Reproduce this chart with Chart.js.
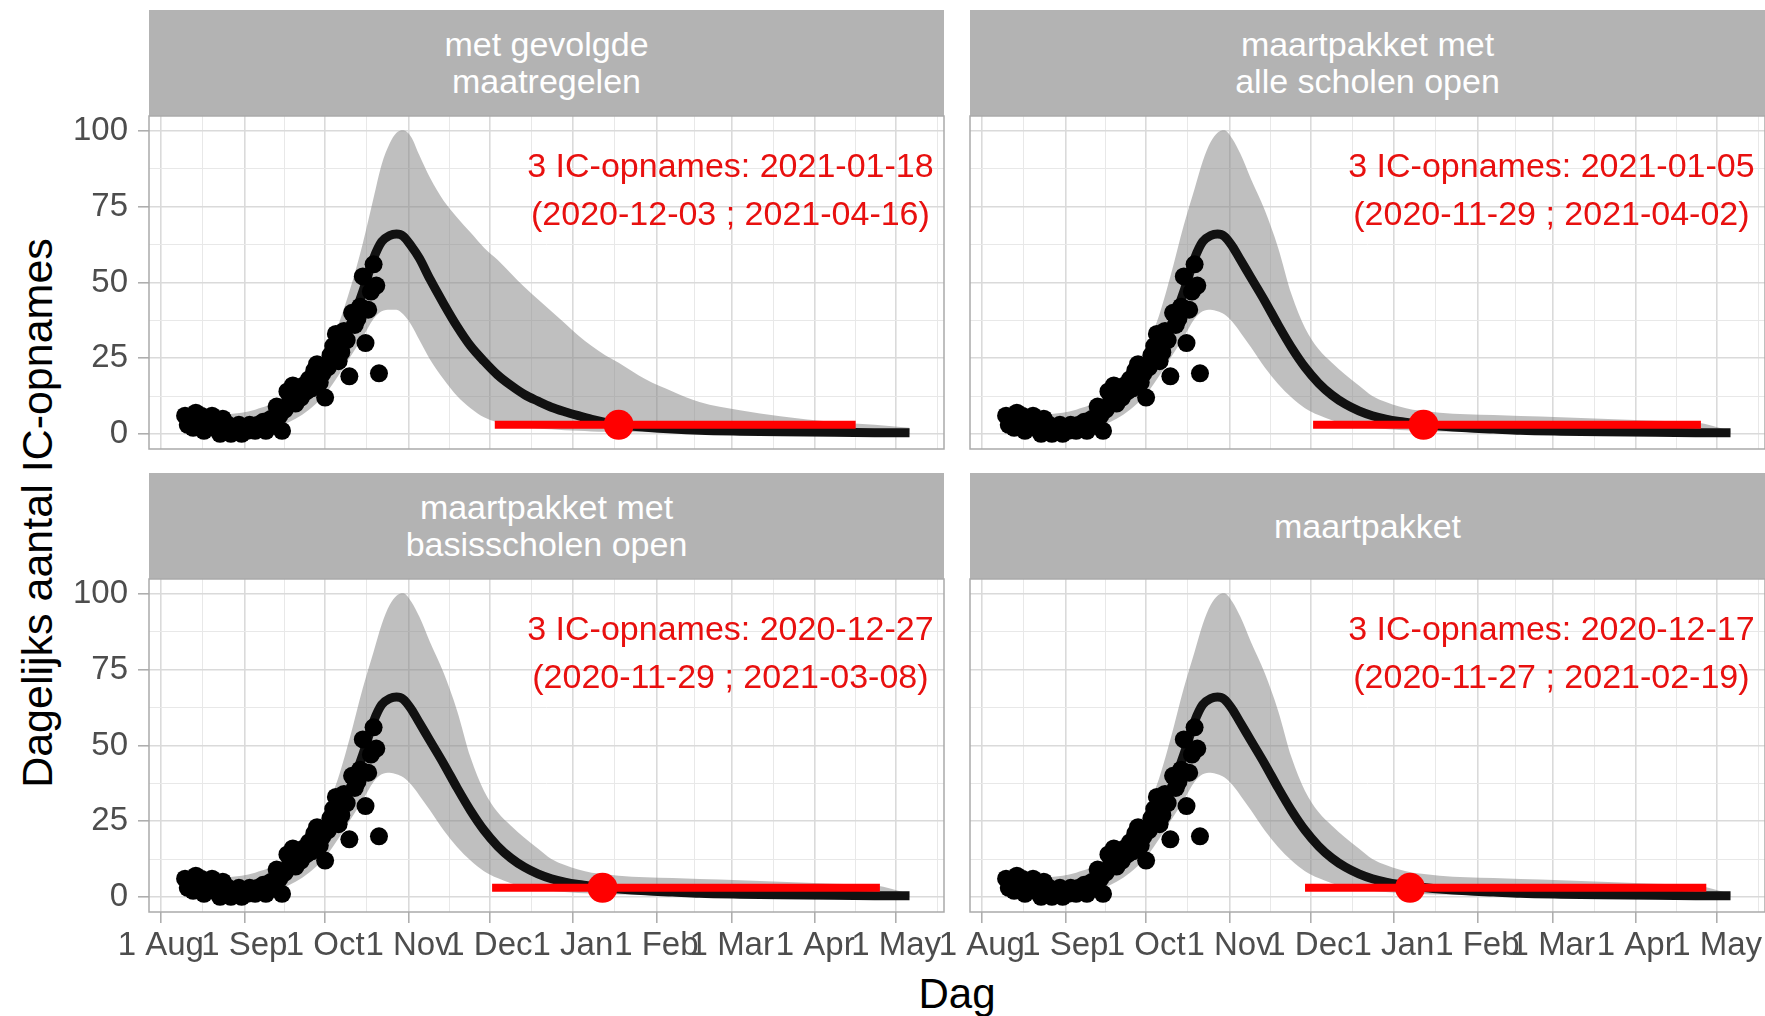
<!DOCTYPE html>
<html>
<head>
<meta charset="utf-8">
<title>IC-opnames scenario's</title>
<script src="https://cdn.jsdelivr.net/npm/chart.js@4.4.1/dist/chart.umd.min.js"></script>
<style>
    html, body { margin: 0; padding: 0; background: #fff; }
    body {
        width: 1765px; height: 1016px; position: relative; overflow: hidden;
        font-family: 'Liberation Sans', Arial, Helvetica, sans-serif;
    }
    .panel { position: absolute; }
    .strip {
        position: absolute; background: #b3b3b3; color: #fff;
        font-size: 34px; line-height: 37px; text-align: center;
        display: flex; align-items: center; justify-content: center;
    }
    .axis-title { position: absolute; color: #000; white-space: nowrap; transform: translate(-50%, -50%); }
    .y-title { left: 37px; top: 513px; font-size: 43px; transform: translate(-50%, -50%) rotate(-90deg); }
    .x-title { left: 957px; top: 994px; font-size: 42px; }
</style>
</head>
<body>
<div class="axis-title y-title">Dagelijks aantal IC-opnames</div>
<div class="axis-title x-title">Dag</div>

<script>
// Dagen geteld vanaf 1 augustus 2020 (dag 0)
const monthDays = [0, 31, 61, 92, 122, 153, 184, 212, 243, 273];
const monthLabels = ['1 Aug', '1 Sep', '1 Oct', '1 Nov', '1 Dec', '1 Jan', '1 Feb', '1 Mar', '1 Apr', '1 May'];
const minorDays = [15.5, 46, 76.5, 107, 137.5, 168.5, 198, 227.5, 258, 288.5];
const yMajor = [0, 25, 50, 75, 100];
const yMinor = [12.5, 37.5, 62.5, 87.5];

// waargenomen dagelijkse IC-opnames
const obsDays = [9, 10, 11, 12, 13, 14, 15, 16, 17, 18, 19, 20, 21, 22, 23, 24, 25, 26, 27, 28,
    29, 30, 31, 32, 33, 34, 35, 36, 37, 38, 39, 40, 41, 42, 43, 44, 45, 46, 47, 48,
    49, 50, 51, 52, 53, 54, 55, 56, 57, 58, 59, 60, 61, 62, 63, 64, 65, 66, 67, 68,
    69, 70, 71, 72, 73, 74, 75, 76, 77, 78, 79, 80, 81];
const obsValues = [6, 3, 5, 2, 7, 4, 6, 1, 5, 3, 6, 2, 4, 0, 5, 2, 3, 0, 2, 1,
    3, 0, 2, 1, 3, 2, 1, 3, 2, 4, 1, 3, 5, 4, 9, 6, 1, 8, 14, 11,
    16, 10, 15, 12, 16, 14, 18, 15, 21, 23, 17, 20, 12, 22, 26, 29, 33, 24, 27, 34,
    31, 19, 40, 36, 38, 42, 52, 30, 41, 47, 56, 49, 20];

// modelcurve en onzekerheidsband
const modelDays = [9, 15, 20, 25, 30, 35, 40, 45, 50, 55, 60, 65, 70, 75, 79, 82, 85, 87.5, 90, 93,
    96, 100, 105, 110, 115, 120, 125, 130, 135, 140, 145, 150, 155, 160, 165, 170, 180, 190, 200, 215,
    230, 250, 265, 278];
const lineSlow = [3.5, 3.2, 3, 3, 3.2, 3.8, 5, 7, 10, 14, 19.5, 26.5, 35, 47, 58, 63.5, 65.5, 66, 65.3, 62,
    58, 51, 43, 35.5, 29, 24, 19.5, 16, 13, 10.8, 8.8, 7.3, 6, 4.8, 3.8, 3, 2.2, 1.6, 1.2, 0.9,
    0.7, 0.5, 0.4, 0.35];
const lineFast = [3.5, 3.2, 3, 3, 3.2, 3.8, 5, 7, 10, 14, 19.5, 26.5, 35, 47, 58, 63.5, 65.5, 66, 65.3, 62,
    57.5, 51.5, 44, 36, 28.5, 22, 16.8, 12.8, 9.8, 7.6, 6, 4.9, 4.1, 3.5, 3, 2.6, 2, 1.6, 1.2, 0.9,
    0.7, 0.5, 0.4, 0.35];
const upperWide = [6, 6, 6, 6.5, 7, 8, 9.5, 12, 15.5, 20, 26, 34, 47, 63, 78, 89, 96, 99.5, 100.3, 98,
    92, 84.5, 77, 71.5, 66.5, 61.5, 57.5, 53, 48.5, 44.5, 40.5, 36.5, 32.5, 29, 26, 23.5, 18, 14, 10.5, 7.8,
    5.8, 3.9, 3, 2];
const lowerWide = [1, 1, 0.8, 0.8, 1, 1.2, 2, 3, 5, 8, 12, 18, 25, 32, 38, 40.5, 41, 41, 39.5, 36,
    31, 24.5, 18, 12.5, 8.5, 5.5, 3.8, 2.8, 2.2, 1.8, 1.5, 1.2, 1, 0.8, 0.7, 0.6, 0.5, 0.4, 0.3, 0.25,
    0.2, 0.15, 0.1, 0.1];
const upperNarrow = [6, 6, 6, 6.5, 7, 8, 9.5, 12, 15.5, 20, 27, 37, 52, 69, 81, 90, 96.5, 99.5, 100.3, 97.5,
    92.5, 84, 74, 61.5, 46, 35, 28, 23.5, 19.5, 16, 12.5, 10.5, 9, 8, 7.5, 7, 6.5, 6.2, 5.9, 5.5,
    5, 4.3, 3.8, 1];
const lowerNarrow = [1, 1, 0.8, 0.8, 1, 1.2, 2, 3, 5, 8, 12, 18, 25, 32, 38, 40.5, 41, 40.5, 39.5, 37,
    33.5, 28.5, 22, 16.5, 12, 8.5, 6.2, 4.5, 3.3, 2.6, 2, 1.6, 1.3, 1.1, 0.9, 0.8, 0.6, 0.5, 0.4, 0.3,
    0.25, 0.2, 0.15, 0.1];

// per scenario
const panelTitles = [['met gevolgde', 'maatregelen'], ['maartpakket met', 'alle scholen open'],
    ['maartpakket met', 'basisscholen open'], ['maartpakket']];
const panelDates = ['2021-01-18', '2021-01-05', '2020-12-27', '2020-12-17'];
const panelRanges = ['(2020-12-03 ; 2021-04-16)', '(2020-11-29 ; 2021-04-02)',
    '(2020-11-29 ; 2021-03-08)', '(2020-11-27 ; 2021-02-19)'];
const intervalStart = [124, 123, 123, 120];
const intervalEnd = [258, 267, 267, 269];
const medianDay = [170, 164, 164, 159];
const thresholdLevel = 3;
const labelDay = 211.5;
const labelLevels = [88, 72];

const panelLines = [lineSlow, lineFast, lineFast, lineFast];
const panelUpper = [upperWide, upperNarrow, upperNarrow, upperNarrow];
const panelLower = [lowerWide, lowerNarrow, lowerNarrow, lowerNarrow];

// layout van de facetten (paginapixels)
const boxes = [
    { left: 0,   top: 110, width: 950, height: 343, yAxisW: 149, xAxisH: 0,  padBottom: 4, showX: false, showY: true },
    { left: 964, top: 110, width: 807, height: 343, yAxisW: 6,   xAxisH: 0,  padBottom: 4, showX: false, showY: false },
    { left: 0,   top: 573, width: 950, height: 401, yAxisW: 149, xAxisH: 62, padBottom: 0, showX: true,  showY: true },
    { left: 920, top: 573, width: 851, height: 401, yAxisW: 50,  xAxisH: 62, padBottom: 0, showX: true,  showY: false }
];
const strips = [
    { left: 149, top: 10 }, { left: 970, top: 10 }, { left: 149, top: 473 }, { left: 970, top: 473 }
];

const FONT = "'Liberation Sans', Arial, Helvetica, sans-serif";
Chart.defaults.font.family = FONT;

const toPoints = (xs, ys) => xs.map((x, i) => ({ x: x, y: ys[i] }));

const xTickValues = monthDays.concat(minorDays).sort((a, b) => a - b);
const yTickValues = yMajor.concat(yMinor).sort((a, b) => a - b);

const framePlugin = {
    id: 'panelFrame',
    afterDraw(chart) {
        const { ctx, chartArea: a } = chart;
        ctx.save();
        ctx.strokeStyle = '#aaaaaa';
        ctx.lineWidth = 1.5;
        ctx.strokeRect(a.left, a.top, a.right - a.left, a.bottom - a.top);
        ctx.restore();
    }
};

const labelPlugin = {
    id: 'icLabel',
    afterDatasetsDraw(chart, args, opts) {
        const { ctx } = chart;
        const x = chart.scales.x.getPixelForValue(labelDay);
        ctx.save();
        ctx.fillStyle = '#e8100f';
        ctx.font = '34px ' + FONT;
        ctx.textAlign = 'center';
        ctx.textBaseline = 'middle';
        ctx.fillText(opts.line1, x, chart.scales.y.getPixelForValue(labelLevels[0]));
        ctx.fillText(opts.line2, x, chart.scales.y.getPixelForValue(labelLevels[1]));
        ctx.restore();
    }
};

function gridColor(majors) {
    return ctx => majors.includes(ctx.tick.value) ? '#dadada' : '#e8e8e8';
}
function gridWidth(majors) {
    return ctx => majors.includes(ctx.tick.value) ? 1.6 : 1;
}
function tickMarkColor(majors) {
    return ctx => majors.includes(ctx.tick.value) ? '#aaaaaa' : 'rgba(0,0,0,0)';
}

// keep the panel area fixed: no automatic label padding
function clearPadding(axis) {
    axis.paddingTop = 0;
    axis.paddingBottom = 0;
    axis.paddingLeft = 0;
    axis.paddingRight = 0;
}

function buildPanel(i) {
    const box = boxes[i];

    const strip = document.createElement('div');
    strip.className = 'strip';
    strip.style.left = strips[i].left + 'px';
    strip.style.top = strips[i].top + 'px';
    strip.style.width = '795px';
    strip.style.height = '106px';
    strip.innerHTML = panelTitles[i].join('<br>');
    document.body.appendChild(strip);

    const wrap = document.createElement('div');
    wrap.className = 'panel';
    wrap.style.left = box.left + 'px';
    wrap.style.top = box.top + 'px';
    wrap.style.width = box.width + 'px';
    wrap.style.height = box.height + 'px';
    const canvas = document.createElement('canvas');
    wrap.appendChild(canvas);
    document.body.appendChild(wrap);

    new Chart(canvas, {
        type: 'line',
        data: {
            datasets: [
                {
                    data: toPoints(modelDays, panelUpper[i]),
                    borderWidth: 0, pointRadius: 0, fill: '+1',
                    backgroundColor: 'rgba(127,127,127,0.5)',
                    cubicInterpolationMode: 'monotone', order: 6
                },
                {
                    data: toPoints(modelDays, panelLower[i]),
                    borderWidth: 0, pointRadius: 0, fill: false,
                    cubicInterpolationMode: 'monotone', order: 6
                },
                {
                    data: toPoints(modelDays, panelLines[i]),
                    borderColor: '#111111', borderWidth: 9, pointRadius: 0, fill: false,
                    cubicInterpolationMode: 'monotone', order: 5
                },
                {
                    data: toPoints(obsDays, obsValues),
                    showLine: false, pointRadius: 9, pointBorderWidth: 0,
                    pointBackgroundColor: '#000000', order: 4
                },
                {
                    data: [{ x: intervalStart[i], y: thresholdLevel }, { x: intervalEnd[i], y: thresholdLevel }],
                    borderColor: '#ff0000', borderWidth: 8, pointRadius: 0, fill: false, order: 3
                },
                {
                    data: [{ x: medianDay[i], y: thresholdLevel }],
                    showLine: false, pointRadius: 15, pointBorderWidth: 0,
                    pointBackgroundColor: '#ff0000', order: 2
                }
            ]
        },
        options: {
            responsive: true,
            maintainAspectRatio: false,
            animation: false,
            events: [],
            devicePixelRatio: 1,
            layout: {
                autoPadding: false,
                padding: { top: 6, right: 6, bottom: box.padBottom, left: 0 }
            },
            plugins: {
                legend: { display: false },
                tooltip: { enabled: false },
                icLabel: { line1: '3 IC-opnames: ' + panelDates[i], line2: panelRanges[i] }
            },
            scales: {
                x: {
                    type: 'linear',
                    min: -4.4,
                    max: 290.8,
                    afterBuildTicks: axis => { axis.ticks = xTickValues.map(v => ({ value: v })); },
                    afterFit: axis => { axis.height = box.xAxisH; clearPadding(axis); },
                    border: { display: false },
                    grid: {
                        color: gridColor(monthDays),
                        lineWidth: gridWidth(monthDays),
                        drawTicks: box.showX,
                        tickLength: 11,
                        tickWidth: 1.5,
                        tickColor: tickMarkColor(monthDays)
                    },
                    ticks: {
                        display: box.showX,
                        autoSkip: false,
                        maxRotation: 0,
                        minRotation: 0,
                        padding: 3,
                        color: '#4d4d4d',
                        font: { size: 33 },
                        callback: v => {
                            const k = monthDays.indexOf(v);
                            return k >= 0 ? monthLabels[k] : '';
                        }
                    }
                },
                y: {
                    type: 'linear',
                    min: -5,
                    max: 105,
                    afterBuildTicks: axis => { axis.ticks = yTickValues.map(v => ({ value: v })); },
                    afterFit: axis => { axis.width = box.yAxisW; clearPadding(axis); },
                    border: { display: false },
                    grid: {
                        color: gridColor(yMajor),
                        lineWidth: gridWidth(yMajor),
                        drawTicks: box.showY,
                        tickLength: 11,
                        tickWidth: 1.5,
                        tickColor: tickMarkColor(yMajor)
                    },
                    ticks: {
                        display: box.showY,
                        autoSkip: false,
                        padding: 10,
                        color: '#4d4d4d',
                        font: { size: 33 },
                        callback: v => yMajor.includes(v) ? String(v) : ''
                    }
                }
            }
        },
        plugins: [framePlugin, labelPlugin]
    });
}

[0, 1, 2, 3].forEach(buildPanel);
</script>
</body>
</html>
